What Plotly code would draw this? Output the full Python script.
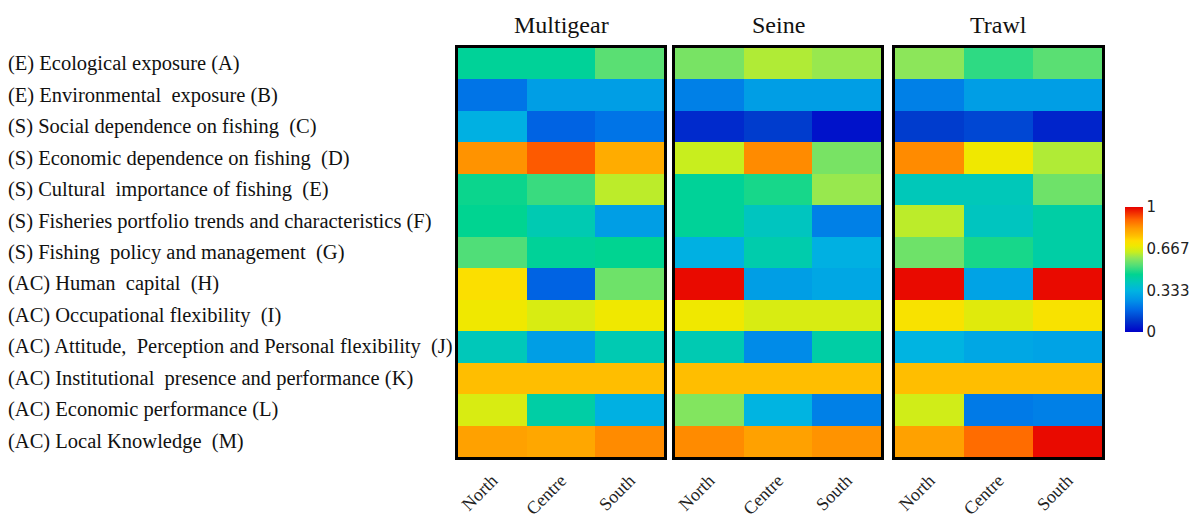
import plotly.graph_objects as go

# Indicator rows (top to bottom) and regions
indicators = [
    "(E) Ecological exposure (A)",
    "(E) Environmental  exposure (B)",
    "(S) Social dependence on fishing  (C)",
    "(S) Economic dependence on fishing  (D)",
    "(S) Cultural  importance of fishing  (E)",
    "(S) Fisheries portfolio trends and characteristics (F)",
    "(S) Fishing  policy and management  (G)",
    "(AC) Human  capital  (H)",
    "(AC) Occupational flexibility  (I)",
    "(AC) Attitude,  Perception and Personal flexibility  (J)",
    "(AC) Institutional  presence and performance (K)",
    "(AC) Economic performance (L)",
    "(AC) Local Knowledge  (M)",
]
regions = ["North", "Centre", "South"]
gears = ["Multigear", "Seine", "Trawl"]

# Normalised scores per indicator: [North, Centre, South]
multigear = [
    [0.45, 0.45, 0.54],
    [0.20, 0.28, 0.28],
    [0.32, 0.17, 0.20],
    [0.84, 0.91, 0.80],
    [0.47, 0.51, 0.63],
    [0.46, 0.41, 0.28],
    [0.53, 0.45, 0.46],
    [0.72, 0.17, 0.56],
    [0.69, 0.66, 0.69],
    [0.40, 0.28, 0.41],
    [0.77, 0.77, 0.77],
    [0.66, 0.43, 0.32],
    [0.82, 0.81, 0.85],
]
seine = [
    [0.57, 0.62, 0.60],
    [0.22, 0.28, 0.28],
    [0.07, 0.10, 0.03],
    [0.64, 0.85, 0.57],
    [0.45, 0.48, 0.60],
    [0.45, 0.39, 0.22],
    [0.32, 0.42, 0.32],
    [0.99, 0.28, 0.30],
    [0.69, 0.66, 0.66],
    [0.41, 0.24, 0.43],
    [0.77, 0.77, 0.77],
    [0.58, 0.33, 0.22],
    [0.85, 0.82, 0.84],
]
trawl = [
    [0.59, 0.50, 0.54],
    [0.22, 0.28, 0.28],
    [0.10, 0.12, 0.06],
    [0.85, 0.69, 0.62],
    [0.40, 0.40, 0.56],
    [0.63, 0.39, 0.43],
    [0.56, 0.48, 0.43],
    [0.99, 0.29, 0.99],
    [0.71, 0.67, 0.71],
    [0.33, 0.30, 0.29],
    [0.77, 0.77, 0.77],
    [0.65, 0.21, 0.22],
    [0.82, 0.89, 0.99],
]
cbar_vals = [0, 0.333, 0.667, 1]
cbar_text = ["0", "0.333", "0.667", "1"]

rainbow = [
    [0.00, "rgb(0,0,200)"],
    [0.10, "rgb(0,60,205)"],
    [0.18, "rgb(0,105,230)"],
    [0.25, "rgb(0,145,232)"],
    [0.33, "rgb(0,180,225)"],
    [0.40, "rgb(0,200,185)"],
    [0.46, "rgb(0,212,145)"],
    [0.53, "rgb(80,222,120)"],
    [0.59, "rgb(140,230,90)"],
    [0.64, "rgb(200,238,30)"],
    [0.69, "rgb(240,232,0)"],
    [0.73, "rgb(255,220,0)"],
    [0.77, "rgb(255,190,0)"],
    [0.83, "rgb(255,155,0)"],
    [0.90, "rgb(255,100,0)"],
    [1.00, "rgb(230,0,0)"],
]

W, H = 1195, 520
serif = "Liberation Serif, Times New Roman, serif"

# panel pixel extents (left, right) and vertical extent of the cells
panels_px = [(458, 664), (675, 881), (895, 1102)]
top_px, bot_px = 48, 457

fig = go.Figure()
data_sets = [multigear, seine, trawl]
for i, (z, gear) in enumerate(zip(data_sets, gears)):
    sfx = "" if i == 0 else str(i + 1)
    fig.add_trace(go.Heatmap(
        z=z, x=regions, y=indicators, coloraxis="coloraxis",
        xaxis="x" + sfx, yaxis="y" + sfx,
        hovertemplate=gear + "<br>%{x}<br>%{y}<br>%{z}<extra></extra>",
    ))
    l, r = panels_px[i]
    fig.layout["xaxis" + sfx] = dict(
        domain=[l / W, r / W], anchor="y" + sfx, automargin=False,
        showline=True, mirror=True, linecolor="black", linewidth=3,
        showgrid=False, zeroline=False, ticks="", tickangle=-45,
        ticklabelstandoff=3,
        tickfont=dict(family=serif, size=18, color="#222"),
    )
    fig.layout["yaxis" + sfx] = dict(
        domain=[1 - bot_px / H, 1 - top_px / H], anchor="x" + sfx,
        automargin=False,
        autorange="reversed", showticklabels=False, ticks="",
        showline=True, mirror=True, linecolor="black", linewidth=3,
        showgrid=False, zeroline=False,
        matches=None if i == 0 else "y",
    )
    fig.add_annotation(
        text=gear, xref="x" + sfx + " domain", yref="paper",
        x=0.5, y=1 - 25 / H, showarrow=False, xanchor="center", yanchor="middle",
        font=dict(family=serif, size=24, color="#111"),
    )

for name in indicators:
    fig.add_annotation(
        text=name, xref="paper", yref="y", x=6 / W, y=name,
        showarrow=False, xanchor="left", yanchor="middle",
        font=dict(family=serif, size=20.5, color="#111"),
    )

fig.update_layout(
    width=W, height=H,
    margin=dict(l=0, r=0, t=0, b=0, autoexpand=False),
    paper_bgcolor="white", plot_bgcolor="white",
    coloraxis=dict(
        colorscale=rainbow, cmin=0, cmax=1,
        colorbar=dict(
            x=1125 / W, xanchor="left", xpad=0,
            y=1 - 269.5 / H, yanchor="middle", ypad=0,
            lenmode="pixels", len=125, thickness=18, outlinewidth=0,
            tickvals=cbar_vals, ticktext=cbar_text, ticks="",
            tickfont=dict(family="DejaVu Sans, Arial, sans-serif", size=15, color="#222"),
        ),
    ),
    showlegend=False,
)

fig.write_html("out.html")
